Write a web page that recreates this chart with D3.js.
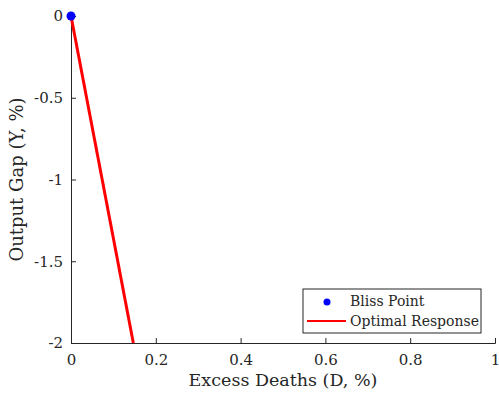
<!DOCTYPE html>
<html>
<head>
<meta charset="utf-8">
<script src="https://d3js.org/d3.v7.min.js"></script>
<style>
body { margin: 0; background: #fff; }
svg text { font-family: "DejaVu Serif", "Liberation Serif", serif; fill: #262626; }
</style>
</head>
<body>
<div id="chart"></div>
<script>
// data
const blissPoint = [{ d: 0, y: 0 }];
const responseD = [0, 0.147];
const responseY = [0, -2];
const xTicks = [0, 0.2, 0.4, 0.6, 0.8, 1];
const yTicks = [0, -0.5, -1, -1.5, -2];
const legendLabels = ["Bliss Point", "Optimal Response"];

var W = 499, H = 393;
var margin = { left: 71, top: 16, right: 4, bottom: 50 };
var serif = '"DejaVu Serif", "Liberation Serif", serif';

var svg = d3.select("#chart").append("svg")
    .attr("width", W).attr("height", H);

var x = d3.scaleLinear().domain([0, 1]).range([margin.left, W - margin.right]);
var y = d3.scaleLinear().domain([-2, 0]).range([H - margin.bottom, margin.top]);

var fmt = function (v) { return String(v).replace("\u2212", "-"); };

// x axis
var gx = svg.append("g")
    .attr("transform", "translate(0," + y(-2) + ")")
    .call(d3.axisBottom(x).tickValues(xTicks).tickSize(-5).tickPadding(11).tickFormat(fmt));
gx.attr("font-family", serif).attr("font-size", 15);
gx.select(".domain").attr("stroke", "#262626").attr("stroke-width", 1);
gx.selectAll(".tick line").attr("stroke", "#262626");
gx.selectAll("text").style("font-size", "15px");

// y axis
var gy = svg.append("g")
    .attr("transform", "translate(" + x(0) + ",0)")
    .call(d3.axisLeft(y).tickValues(yTicks).tickSize(-5).tickPadding(8).tickFormat(fmt));
gy.attr("font-family", serif).attr("font-size", 15);
gy.select(".domain").attr("stroke", "#262626").attr("stroke-width", 1);
gy.selectAll(".tick line").attr("stroke", "#262626");
gy.selectAll("text").style("font-size", "15px");

// axis labels
svg.append("text")
    .attr("x", x(0.5)).attr("y", H - 7)
    .attr("text-anchor", "middle")
    .style("font-size", "17.5px")
    .text("Excess Deaths (D, %)");

svg.append("text")
    .attr("transform", "translate(23," + y(-1) + ") rotate(-90)")
    .attr("text-anchor", "middle")
    .style("font-size", "18px")
    .text("Output Gap (Y, %)");

// optimal response line
var pts = responseD.map(function (d, i) { return [d, responseY[i]]; });
svg.append("path")
    .datum(pts)
    .attr("fill", "none")
    .attr("stroke", "#ff0000")
    .attr("stroke-width", 3)
    .attr("d", d3.line().x(function (p) { return x(p[0]); }).y(function (p) { return y(p[1]); }));

// bliss point
svg.selectAll("circle.bliss")
    .data(blissPoint)
    .enter().append("circle")
    .attr("class", "bliss")
    .attr("cx", function (p) { return x(p.d); })
    .attr("cy", function (p) { return y(p.y); })
    .attr("r", 4.5)
    .attr("fill", "#0000ff");

// legend
var lg = svg.append("g").attr("transform", "translate(303,289)");
lg.append("rect")
    .attr("width", 178).attr("height", 44)
    .attr("fill", "#fff").attr("stroke", "#262626").attr("stroke-width", 1);
lg.append("circle").attr("cx", 24).attr("cy", 13).attr("r", 3.5).attr("fill", "#0000ff");
lg.append("line").attr("x1", 4).attr("x2", 43).attr("y1", 32).attr("y2", 32)
    .attr("stroke", "#ff0000").attr("stroke-width", 2);
lg.selectAll("text.leg")
    .data(legendLabels)
    .enter().append("text")
    .attr("class", "leg")
    .attr("x", 47)
    .attr("y", function (d, i) { return 17 + i * 20; })
    .style("font-size", "14px")
    .text(function (d) { return d; });
</script>
</body>
</html>
